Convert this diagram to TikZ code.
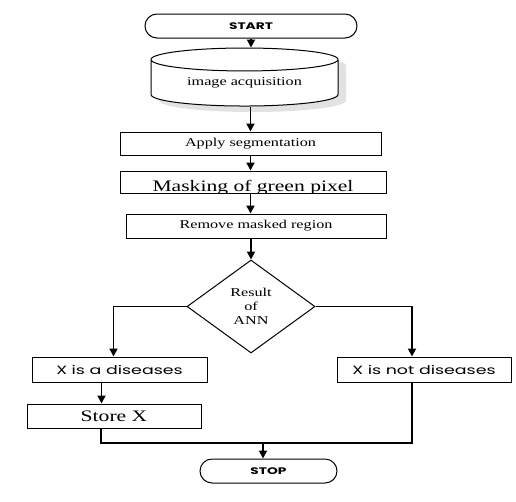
\documentclass[tikz,border=0pt]{standalone}
\usepackage{fontspec}
\setmainfont{Liberation Serif}
\newfontfamily\serifwide[FakeStretch=1.35]{Liberation Serif}
\newfontfamily\gothicwide[FakeStretch=1.45]{Poppins}
\usetikzlibrary{
  arrows.meta,
  positioning,
  shapes.geometric,
  shadows
}

\begin{document}
\begin{tikzpicture}[x=1pt,y=1pt,
  box/.style={rectangle,draw,line width=1pt,inner sep=0pt,minimum height=23pt,font=\serifwide\fontsize{12}{14}\selectfont},
  sbox/.style={box,minimum height=25pt,font=\gothicwide\fontsize{12}{14}\selectfont},
  term/.style={rectangle,rounded corners=12pt,draw,line width=1pt,minimum height=24pt,font=\gothicwide\fontsize{9.5}{12}\selectfont\bfseries},
  a/.style={-{Triangle[length=8pt,width=8pt]},line width=1.8pt},
  l/.style={line width=1.4pt}
]
\useasboundingbox (0,0) rectangle (516,-501);
\node[term,minimum width=212pt] (start) at (251,-26) {START};
\node[cylinder,shape border rotate=90,draw,line width=1pt,fill=white,aspect=0.2,
  minimum width=187pt,minimum height=58pt,inner sep=0pt,
  drop shadow={shadow xshift=8pt,shadow yshift=-6pt,fill=gray!45},
  font=\serifwide\fontsize{12}{14}\selectfont] (acq) at (244.5,-83) {image acquisition};
\node[box,minimum width=261pt] (seg) at (250.5,-143.5) {Apply segmentation};
\node[box,minimum width=266pt,minimum height=22pt,path picture={
  \node[font=\serifwide\fontsize{16}{18}\selectfont,anchor=base] at ([yshift=-9.5pt]path picture bounding box.center) {Masking of green pixel};
}] (mask) at (253,-182) {};
\node[box,minimum width=260pt,minimum height=24pt] (rem) at (256,-226) {Remove masked region};
\node[diamond,draw,line width=1pt,minimum width=128pt,minimum height=93pt,inner sep=0pt,
  align=center,font=\serifwide\fontsize{12}{14}\selectfont] (ann) at (251,-306.5) {Result\\of\\ANN};
\node[sbox,minimum width=175pt] (dis) at (119.5,-369.5) {X is a diseases};
\node[sbox,minimum width=174pt] (notdis) at (424,-369.5) {X is not diseases};
\node[box,minimum width=174pt,minimum height=24pt,font=\serifwide\fontsize{16}{18}\selectfont] (store) at (114,-416) {Store X};
\node[term,minimum width=137pt] (stop) at (268.5,-471) {STOP};
\coordinate (join) at (263,-443);
% connectors
\draw[a] (start.south) -- (start.south |- acq.north);
\draw[a] (acq.south -| seg.north) -- (seg.north);
\draw[a] (seg.south) -- (seg.south |- mask.north);
\draw[a] (mask.south -| seg.south) -- (seg.south |- rem.north);
\draw[a] (rem.south -| ann.north) -- (ann.north);
\draw[a] (ann.west) -| ([xshift=-6pt]dis.north);
\draw[a] (ann.east) -| ([xshift=-12pt]notdis.north);
\draw[a] ([xshift=-18pt]dis.south) -- ([xshift=-18pt]dis.south |- store.north);
\draw[l] ([xshift=-13pt]store.south) |- (join) -| ([xshift=-12pt]notdis.south);
\draw[a] (join) -- (join |- stop.north);
\end{tikzpicture}
\end{document}
